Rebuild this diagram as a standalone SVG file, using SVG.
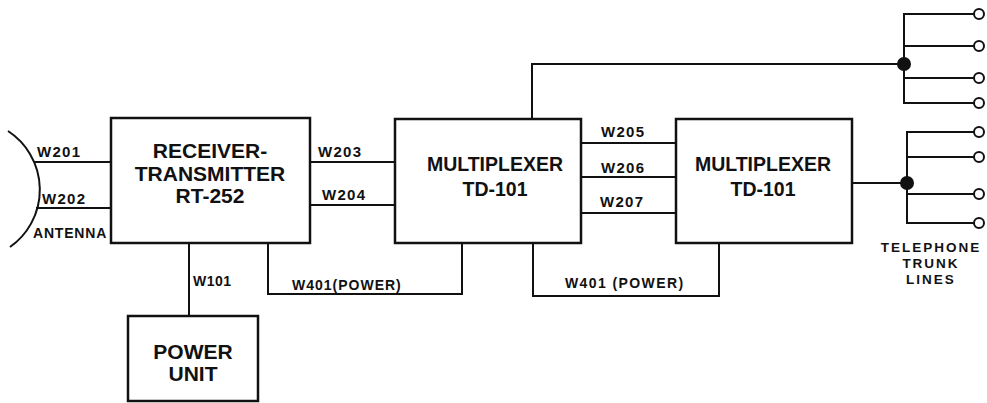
<svg xmlns="http://www.w3.org/2000/svg" width="987" height="403" viewBox="0 0 987 403">
<style>
  .box { fill: #fff; stroke: #111; stroke-width: 2.5; }
  .wire { fill: none; stroke: #111; stroke-width: 2; stroke-linejoin: miter; }
  .term { fill: #fff; stroke: #111; stroke-width: 2; }
  .dot { fill: #111; }
  .big { font-family: "Liberation Sans", Arial, sans-serif; font-weight: bold; font-size: 21px; fill: #111; text-anchor: middle; }
  .lbl { font-family: "Liberation Sans", Arial, sans-serif; font-weight: bold; font-size: 14px; fill: #111; letter-spacing: 1px; }
  .wl { font-size: 15px; letter-spacing: 1.3px; }
  .tel { font-family: "Liberation Sans", Arial, sans-serif; font-weight: bold; font-size: 13.5px; fill: #111; letter-spacing: 2px; text-anchor: middle; }
</style>
<rect width="987" height="403" fill="#fff"/>

<g id="connectors">
  <!-- antenna -->
  <path class="wire" d="M 8 131 A 70 70 0 0 1 10 247"/>
  <line class="wire" x1="34" y1="162" x2="111" y2="162"/>
  <line class="wire" x1="36" y1="208" x2="111" y2="208"/>
  <!-- RT to MUX1 -->
  <line class="wire" x1="310" y1="162" x2="395" y2="162"/>
  <line class="wire" x1="310" y1="205" x2="395" y2="205"/>
  <!-- W101 -->
  <line class="wire" x1="189" y1="243" x2="189" y2="316"/>
  <!-- W401 left -->
  <polyline class="wire" points="268,243 268,294 462,294 462,243"/>
  <!-- W401 right -->
  <polyline class="wire" points="533,243 533,296 719,296 719,243"/>
  <!-- MUX1 to MUX2 -->
  <line class="wire" x1="581" y1="143" x2="676" y2="143"/>
  <line class="wire" x1="581" y1="177" x2="676" y2="177"/>
  <line class="wire" x1="581" y1="213" x2="676" y2="213"/>
  <!-- top line -->
  <polyline class="wire" points="532,119 532,64 904,64"/>
  <!-- upper bus -->
  <polyline class="wire" points="974,14 904,14 904,103 974,103"/>
  <line class="wire" x1="904" y1="46" x2="974" y2="46"/>
  <line class="wire" x1="904" y1="78" x2="974" y2="78"/>
  <!-- MUX2 to lower bus -->
  <line class="wire" x1="852" y1="183" x2="907" y2="183"/>
  <polyline class="wire" points="974,132 907,132 907,223 974,223"/>
  <line class="wire" x1="907" y1="157" x2="974" y2="157"/>
  <line class="wire" x1="907" y1="194" x2="974" y2="194"/>
  <circle class="dot" cx="904" cy="64" r="7"/>
  <circle class="dot" cx="907" cy="183" r="7"/>
  <circle class="term" cx="979" cy="14" r="5"/>
  <circle class="term" cx="979" cy="46" r="5"/>
  <circle class="term" cx="979" cy="78" r="5"/>
  <circle class="term" cx="979" cy="103" r="5"/>
  <circle class="term" cx="979" cy="132" r="5"/>
  <circle class="term" cx="979" cy="157" r="5"/>
  <circle class="term" cx="979" cy="194" r="5"/>
  <circle class="term" cx="979" cy="223" r="5"/>
  <!-- labels -->
  <text class="lbl wl" x="37" y="157">W201</text>
  <text class="lbl wl" x="42" y="204">W202</text>
  <text class="lbl" x="33" y="238" style="letter-spacing:0.8px">ANTENNA</text>
  <text class="lbl wl" x="318" y="157">W203</text>
  <text class="lbl wl" x="322" y="200">W204</text>
  <text class="lbl" x="193" y="286" style="letter-spacing:0.5px">W101</text>
  <text class="lbl" x="292" y="290">W401(POWER)</text>
  <text class="lbl wl" x="601" y="137">W205</text>
  <text class="lbl wl" x="601" y="173">W206</text>
  <text class="lbl wl" x="600" y="207">W207</text>
  <text class="lbl" x="565" y="288" style="letter-spacing:1.4px">W401 (POWER)</text>
  <text class="tel" x="931" y="252">TELEPHONE</text>
  <text class="tel" x="931" y="268">TRUNK</text>
  <text class="tel" x="931" y="284">LINES</text>
</g>

<g id="rt252">
  <rect class="box" x="111" y="118" width="199" height="125"/>
  <text class="big" x="210" y="158">RECEIVER-</text>
  <text class="big" x="210" y="181">TRANSMITTER</text>
  <text class="big" x="210" y="203">RT-252</text>
</g>

<g id="mux1">
  <rect class="box" x="395" y="119" width="186" height="124"/>
  <text class="big" x="495" y="171" style="font-size:19.5px">MULTIPLEXER</text>
  <text class="big" x="495" y="196" style="font-size:19.5px">TD-101</text>
</g>

<g id="mux2">
  <rect class="box" x="676" y="119" width="176" height="124"/>
  <text class="big" x="763" y="171" style="font-size:19.5px">MULTIPLEXER</text>
  <text class="big" x="763" y="196" style="font-size:19.5px">TD-101</text>
</g>

<g id="power">
  <rect class="box" x="128" y="316" width="130" height="85"/>
  <text class="big" x="193" y="359">POWER</text>
  <text class="big" x="193" y="381">UNIT</text>
</g>
</svg>
